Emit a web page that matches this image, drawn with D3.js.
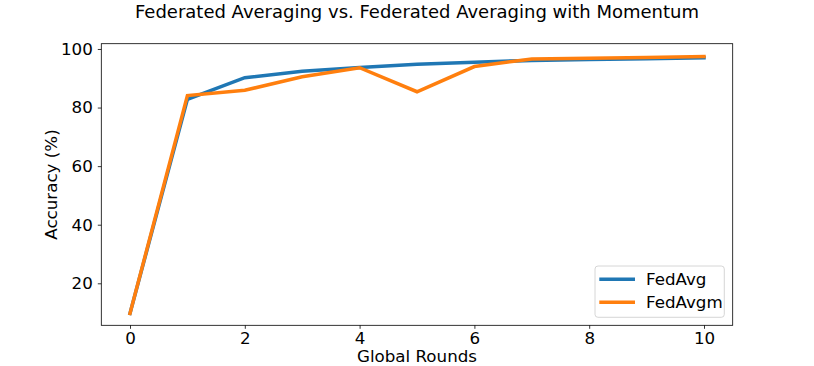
<!DOCTYPE html>
<html>
<head>
<meta charset="utf-8">
<script src="https://cdn.jsdelivr.net/npm/d3@7"></script>
<style>
body { margin: 0; background: #fff; }
text { font-family: "DejaVu Sans", sans-serif; fill: #000; }
</style>
</head>
<body>
<svg id="chart" width="814" height="366"></svg>
<script>
let rounds = [0, 1, 2, 3, 4, 5, 6, 7, 8, 9, 10];
let fedAvg = [9.7, 82.8, 90.2, 92.4, 93.7, 94.8, 95.5, 96.1, 96.4, 96.7, 97.0];
let fedAvgm = [9.7, 84.1, 85.9, 90.5, 93.6, 85.4, 94.0, 96.6, 96.8, 97.1, 97.4];
let xTicks = [0, 2, 4, 6, 8, 10];
let yTicks = [20, 40, 60, 80, 100];
let seriesNames = ['FedAvg', 'FedAvgm'];
let colors = ['#1f77b4', '#ff7f0e'];

let plotLeft = 101.3, plotRight = 732.7, plotTop = 43.7, plotBottom = 325.3;

let svg = d3.select('#chart');
let x = d3.scaleLinear().domain([-0.5, 10.5]).range([plotLeft, plotRight]);
let y = d3.scaleLinear().domain([5.66, 101.8]).range([plotBottom, plotTop]);

// axes
let xAxis = svg.append('g')
    .attr('transform', 'translate(0,' + plotBottom + ')')
    .call(d3.axisBottom(x).tickValues(xTicks).tickSize(3.5).tickPadding(3));
let yAxis = svg.append('g')
    .attr('transform', 'translate(' + plotLeft + ',0)')
    .call(d3.axisLeft(y).tickValues(yTicks).tickSize(3.5).tickPadding(5));
[xAxis, yAxis].forEach(function(a) {
    a.select('.domain').remove();
    a.selectAll('line').attr('stroke', '#000').attr('stroke-width', 0.8);
    a.selectAll('text').style('font-size', '16.7px').attr('fill', '#000');
});

// lines
let line = d3.line().x(function(d, i) { return x(rounds[i]); }).y(function(d) { return y(d); });
[fedAvg, fedAvgm].forEach(function(s, i) {
    svg.append('path')
        .datum(s)
        .attr('d', line)
        .attr('fill', 'none')
        .attr('stroke', colors[i])
        .attr('stroke-width', 3.5)
        .attr('stroke-linejoin', 'miter')
        .attr('stroke-linecap', 'square');
});

// frame
svg.append('rect')
    .attr('x', plotLeft).attr('y', plotTop)
    .attr('width', plotRight - plotLeft).attr('height', plotBottom - plotTop)
    .attr('fill', 'none').attr('stroke', '#000').attr('stroke-width', 0.8);

// titles
svg.append('text')
    .attr('x', (plotLeft + plotRight) / 2).attr('y', 17.5)
    .attr('text-anchor', 'middle')
    .style('font-size', '18px')
    .text('Federated Averaging vs. Federated Averaging with Momentum');
svg.append('text')
    .attr('x', (plotLeft + plotRight) / 2).attr('y', 362)
    .attr('text-anchor', 'middle')
    .style('font-size', '16.7px')
    .text('Global Rounds');
svg.append('text')
    .attr('transform', 'translate(57,' + ((plotTop + plotBottom) / 2) + ') rotate(-90)')
    .attr('text-anchor', 'middle')
    .style('font-size', '16.7px')
    .text('Accuracy (%)');

// legend
let lg = svg.append('g').attr('transform', 'translate(595,266)');
lg.append('rect')
    .attr('width', 129.3).attr('height', 51.3).attr('rx', 3)
    .attr('fill', '#fff').attr('fill-opacity', 0.8)
    .attr('stroke', '#ccc').attr('stroke-width', 0.8);
seriesNames.forEach(function(n, i) {
    let yy = 13.3 + i * 23;
    lg.append('line')
        .attr('x1', 4.3).attr('x2', 40).attr('y1', yy).attr('y2', yy)
        .attr('stroke', colors[i]).attr('stroke-width', 3.5);
    lg.append('text')
        .attr('x', 51).attr('y', yy + 6)
        .style('font-size', '16.7px')
        .text(n);
});
</script>
</body>
</html>
